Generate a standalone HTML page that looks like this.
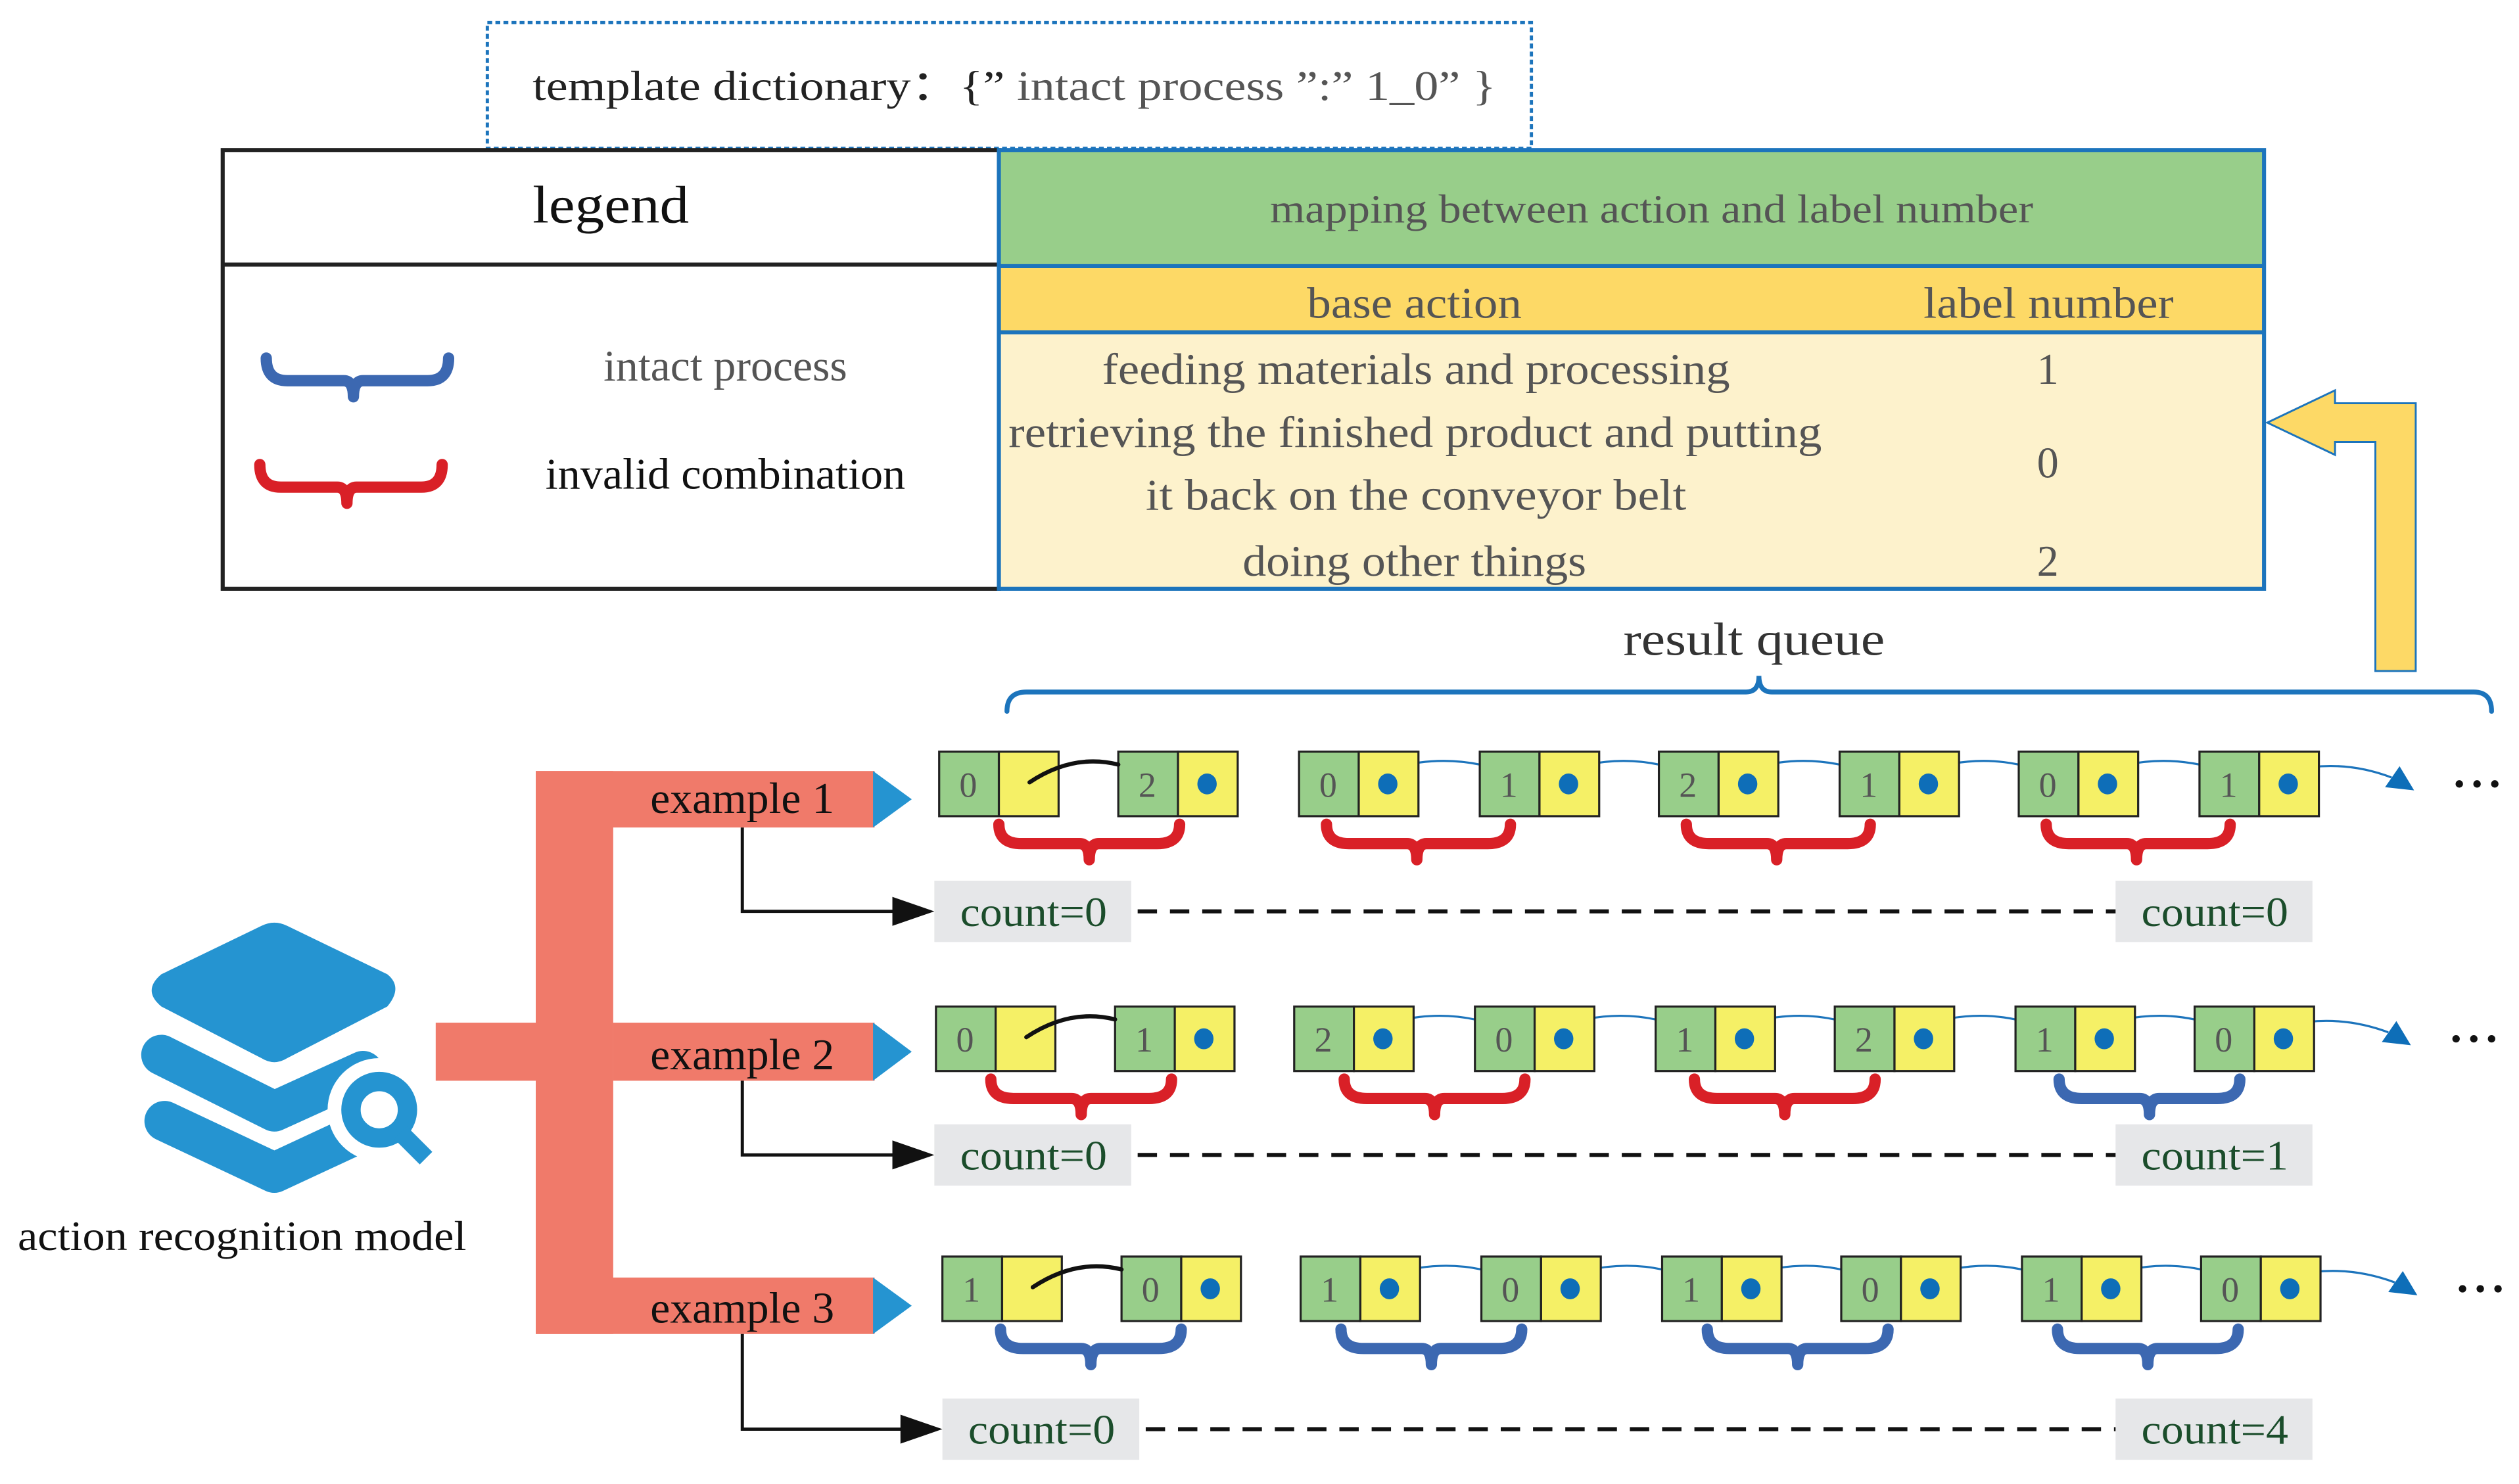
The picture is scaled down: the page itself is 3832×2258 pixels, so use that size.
<!DOCTYPE html>
<html><head><meta charset="utf-8"><style>html,body{margin:0;padding:0;background:#fff}svg{display:block}</style></head>
<body>
<svg width="3832" height="2258" viewBox="0 0 1561 920" preserveAspectRatio="none" xmlns="http://www.w3.org/2000/svg" font-family="'Liberation Serif', serif">
<defs>
<g id="nd"><rect x="0" y="0" width="37" height="40" fill="#98CE8A" stroke="#222" stroke-width="1.3"/><rect x="37" y="0" width="37" height="40" fill="#F5F066" stroke="#222" stroke-width="1.3"/></g>
</defs>
<!-- template dictionary -->
<rect x="302" y="14" width="647" height="78" fill="#fff" stroke="#1C74BC" stroke-width="2" stroke-dasharray="3,2"/>
<text x="330" y="62" font-size="26" fill="#222" textLength="597" lengthAdjust="spacingAndGlyphs">template dictionary：{” <tspan fill="#555">intact process ”:” 1_0” }</tspan></text>
<!-- legend -->
<rect x="138" y="93" width="481" height="272" fill="#fff" stroke="#222" stroke-width="2.5"/>
<line x1="138" y1="164" x2="619" y2="164" stroke="#222" stroke-width="2.5"/>
<text x="330" y="138" font-size="33" fill="#111" textLength="97" lengthAdjust="spacingAndGlyphs">legend</text>
<path d="M165,222 Q165,236 178,236 L213,236 Q219,236 219,246 Q219,236 225,236 L265,236 Q278,236 278,222" fill="none" stroke="#3C68B1" stroke-width="7" stroke-linecap="round" stroke-linejoin="round"/>
<text x="374" y="236" font-size="27" fill="#555" textLength="151" lengthAdjust="spacingAndGlyphs">intact process</text>
<path d="M161,288 Q161,302 174,302 L209,302 Q215,302 215,312 Q215,302 221,302 L261,302 Q274,302 274,288" fill="none" stroke="#D92027" stroke-width="7" stroke-linecap="round" stroke-linejoin="round"/>
<text x="338" y="303" font-size="27" fill="#111" textLength="223" lengthAdjust="spacingAndGlyphs">invalid combination</text>
<!-- mapping table -->
<rect x="619" y="93" width="784" height="72" fill="#98CE8A"/>
<rect x="619" y="165" width="784" height="41" fill="#FDD966"/>
<rect x="619" y="206" width="784" height="159" fill="#FDF2CC"/>
<rect x="619" y="93" width="784" height="272" fill="none" stroke="#1C74BC" stroke-width="2.5"/>
<line x1="619" y1="165" x2="1403" y2="165" stroke="#1C74BC" stroke-width="2.5"/>
<line x1="619" y1="206" x2="1403" y2="206" stroke="#1C74BC" stroke-width="2.5"/>
<g font-size="27" fill="#555">
<text x="787" y="138" textLength="473" lengthAdjust="spacingAndGlyphs" font-size="25">mapping between action and label number</text>
<text x="810" y="197" textLength="133" lengthAdjust="spacingAndGlyphs">base action</text>
<text x="1192" y="197" textLength="155" lengthAdjust="spacingAndGlyphs">label number</text>
<text x="683" y="238" textLength="389" lengthAdjust="spacingAndGlyphs">feeding materials and processing</text>
<text x="625" y="277" textLength="504" lengthAdjust="spacingAndGlyphs">retrieving the finished product and putting</text>
<text x="710" y="316" textLength="335" lengthAdjust="spacingAndGlyphs">it back on the conveyor belt</text>
<text x="770" y="357" textLength="213" lengthAdjust="spacingAndGlyphs">doing other things</text>
<text x="1269" y="238" text-anchor="middle">1</text>
<text x="1269" y="296" text-anchor="middle">0</text>
<text x="1269" y="357" text-anchor="middle">2</text>
</g>
<!-- yellow arrow -->
<polygon points="1405,262 1447,242 1447,250 1497,250 1497,416 1472,416 1472,274 1447,274 1447,282" fill="#FDD966" stroke="#1C74BC" stroke-width="1.2"/>
<!-- result queue -->
<text x="1006" y="406" font-size="29" fill="#333" textLength="162" lengthAdjust="spacingAndGlyphs">result queue</text>
<path d="M624,441 Q624,429 636,429 L1082,429 Q1090,429 1090,419 Q1090,429 1098,429 L1533,429 Q1544,429 1544,441" fill="none" stroke="#1C74BC" stroke-width="3" stroke-linecap="round"/>
<!-- salmon tree -->
<g fill="#F07A6A">
<rect x="270" y="634" width="110" height="36"/>
<rect x="332" y="478" width="48" height="349"/>
<rect x="332" y="478" width="210" height="35"/>
<rect x="380" y="634" width="162" height="36"/>
<rect x="332" y="792" width="210" height="35"/>
</g>
<g fill="#2594D1">
<polygon points="541,478 565,495.5 541,513"/>
<polygon points="541,634 565,652 541,670"/>
<polygon points="541,792 565,809.5 541,827"/>
</g>
<g font-size="27" fill="#111">
<text x="403" y="504" textLength="114" lengthAdjust="spacingAndGlyphs">example 1</text>
<text x="403" y="663" textLength="114" lengthAdjust="spacingAndGlyphs">example 2</text>
<text x="403" y="820" textLength="114" lengthAdjust="spacingAndGlyphs">example 3</text>
</g>
<!-- icon -->
<g fill="#2594D1">
<path d="M162,574 Q170,570 178,574 L240,604 Q250,612 240,624 L178,656 Q170,661 162,656 L100,624 Q88,614 100,604 Z"/>
<polyline points="100,654 170,689 225,664" fill="none" stroke="#2594D1" stroke-width="25" stroke-linejoin="round" stroke-linecap="round"/>
<polyline points="102,695 170,727 228,700" fill="none" stroke="#2594D1" stroke-width="25" stroke-linejoin="round" stroke-linecap="round"/>
<circle cx="235" cy="688" r="32" fill="#fff"/>
<circle cx="235" cy="688" r="17.5" fill="none" stroke="#2594D1" stroke-width="12"/>
<line x1="248" y1="702" x2="264" y2="718" stroke="#2594D1" stroke-width="11"/>
</g>
<text x="11" y="775" font-size="26" fill="#111" textLength="278" lengthAdjust="spacingAndGlyphs">action recognition model</text>
<!-- elbow arrows -->
<g stroke="#111" stroke-width="2" fill="none">
<path d="M460,513 V565 H560"/><path d="M460,670 V716 H560"/><path d="M460,827 V886 H565"/>
</g>
<g fill="#111">
<polygon points="553,556 579,565 553,574"/><polygon points="553,707 579,716 553,725"/><polygon points="558,877 584,886 558,895"/>
</g>
<!-- count boxes -->
<g fill="#E6E7E9">
<rect x="579" y="546" width="122" height="38"/><rect x="1311" y="546" width="122" height="38"/>
<rect x="579" y="697" width="122" height="38"/><rect x="1311" y="697" width="122" height="38"/>
<rect x="584" y="867" width="122" height="38"/><rect x="1311" y="867" width="122" height="38"/>
</g>
<g stroke="#111" stroke-width="2.5" stroke-dasharray="12,8">
<line x1="705" y1="565" x2="1311" y2="565"/><line x1="705" y1="716" x2="1311" y2="716"/><line x1="710" y1="886" x2="1311" y2="886"/>
</g>
<g font-size="26" fill="#1B4D2B">
<text x="595" y="574" textLength="91" lengthAdjust="spacingAndGlyphs">count=0</text>
<text x="1327" y="574" textLength="91" lengthAdjust="spacingAndGlyphs">count=0</text>
<text x="595" y="725" textLength="91" lengthAdjust="spacingAndGlyphs">count=0</text>
<text x="1327" y="725" textLength="91" lengthAdjust="spacingAndGlyphs">count=1</text>
<text x="600" y="895" textLength="91" lengthAdjust="spacingAndGlyphs">count=0</text>
<text x="1327" y="895" textLength="91" lengthAdjust="spacingAndGlyphs">count=4</text>
</g>

<!-- ROW 1 y=466 -->
<g>
<path d="M838,486 Q878,466 917,474 M950,486 Q990,466 1028,474 M1061,486 Q1101,466 1140,474 M1173,486 Q1213,466 1251,474 M1284,486 Q1324,466 1363,474 M1396,486 Q1440,466 1482,482" fill="none" stroke="#1C74BC" stroke-width="1.3"/>
<use href="#nd" x="582" y="466"/><use href="#nd" x="693" y="466"/><use href="#nd" x="805" y="466"/><use href="#nd" x="917" y="466"/>
<use href="#nd" x="1028" y="466"/><use href="#nd" x="1140" y="466"/><use href="#nd" x="1251" y="466"/><use href="#nd" x="1363" y="466"/>
<path d="M638,485 Q665,467 693,474" fill="none" stroke="#111" stroke-width="2.6" stroke-linecap="round"/>
<g fill="#0E6EB8"><ellipse cx="748" cy="486" rx="6" ry="6.5"/><ellipse cx="860" cy="486" rx="6" ry="6.5"/><ellipse cx="972" cy="486" rx="6" ry="6.5"/><ellipse cx="1083" cy="486" rx="6" ry="6.5"/><ellipse cx="1195" cy="486" rx="6" ry="6.5"/><ellipse cx="1306" cy="486" rx="6" ry="6.5"/><ellipse cx="1418" cy="486" rx="6" ry="6.5"/>
<polygon points="1478,488 1487,475 1496,490"/></g>
<g font-size="22" fill="#555" text-anchor="middle">
<text x="600" y="494">0</text><text x="711" y="494">2</text><text x="823" y="494">0</text><text x="935" y="494">1</text><text x="1046" y="494">2</text><text x="1158" y="494">1</text><text x="1269" y="494">0</text><text x="1381" y="494">1</text>
</g>
<g fill="none" stroke="#D92027" stroke-width="7" stroke-linecap="round" stroke-linejoin="round">
<path d="M619,511 Q619,523 633,523 L669,523 Q675,523 675,533 Q675,523 681,523 L717,523 Q731,523 731,511"/>
<path d="M822,511 Q822,523 836,523 L872,523 Q878,523 878,533 Q878,523 884,523 L922,523 Q936,523 936,511"/>
<path d="M1045,511 Q1045,523 1059,523 L1095,523 Q1101,523 1101,533 Q1101,523 1107,523 L1145,523 Q1159,523 1159,511"/>
<path d="M1268,511 Q1268,523 1282,523 L1318,523 Q1324,523 1324,533 Q1324,523 1330,523 L1368,523 Q1382,523 1382,511"/>
</g>
</g>
<g fill="#111"><circle cx="1524" cy="486" r="2.3"/><circle cx="1535" cy="486" r="2.3"/><circle cx="1546" cy="486" r="2.3"/></g>

<!-- ROW 2 y=624 -->
<g>
<path d="M836,644 Q876,624 914,632 M948,644 Q988,624 1026,632 M1059,644 Q1099,624 1137,632 M1171,644 Q1211,624 1249,632 M1282,644 Q1322,624 1360,632 M1393,644 Q1437,624 1480,640" fill="none" stroke="#1C74BC" stroke-width="1.3"/>
<use href="#nd" x="580" y="624"/><use href="#nd" x="691" y="624"/><use href="#nd" x="802" y="624"/><use href="#nd" x="914" y="624"/>
<use href="#nd" x="1026" y="624"/><use href="#nd" x="1137" y="624"/><use href="#nd" x="1249" y="624"/><use href="#nd" x="1360" y="624"/>
<path d="M636,643 Q663,625 691,632" fill="none" stroke="#111" stroke-width="2.6" stroke-linecap="round"/>
<g fill="#0E6EB8"><ellipse cx="746" cy="644" rx="6" ry="6.5"/><ellipse cx="857" cy="644" rx="6" ry="6.5"/><ellipse cx="969" cy="644" rx="6" ry="6.5"/><ellipse cx="1081" cy="644" rx="6" ry="6.5"/><ellipse cx="1192" cy="644" rx="6" ry="6.5"/><ellipse cx="1304" cy="644" rx="6" ry="6.5"/><ellipse cx="1415" cy="644" rx="6" ry="6.5"/>
<polygon points="1476,646 1485,633 1494,648"/></g>
<g font-size="22" fill="#555" text-anchor="middle">
<text x="598" y="652">0</text><text x="709" y="652">1</text><text x="820" y="652">2</text><text x="932" y="652">0</text><text x="1044" y="652">1</text><text x="1155" y="652">2</text><text x="1267" y="652">1</text><text x="1378" y="652">0</text>
</g>
<g fill="none" stroke-width="7" stroke-linecap="round" stroke-linejoin="round">
<path stroke="#D92027" d="M614,669 Q614,681 628,681 L664,681 Q670,681 670,691 Q670,681 676,681 L712,681 Q726,681 726,669"/>
<path stroke="#D92027" d="M833,669 Q833,681 847,681 L883,681 Q889,681 889,691 Q889,681 895,681 L931,681 Q945,681 945,669"/>
<path stroke="#D92027" d="M1050,669 Q1050,681 1064,681 L1100,681 Q1106,681 1106,691 Q1106,681 1112,681 L1148,681 Q1162,681 1162,669"/>
<path stroke="#3C68B1" d="M1276,669 Q1276,681 1290,681 L1326,681 Q1332,681 1332,691 Q1332,681 1338,681 L1374,681 Q1388,681 1388,669"/>
</g>
</g>
<g fill="#111"><circle cx="1522" cy="644" r="2.3"/><circle cx="1533" cy="644" r="2.3"/><circle cx="1544" cy="644" r="2.3"/></g>

<!-- ROW 3 y=779 -->
<g>
<path d="M840,799 Q880,779 918,787 M952,799 Q992,779 1030,787 M1063,799 Q1103,779 1141,787 M1175,799 Q1215,779 1253,787 M1286,799 Q1326,779 1364,787 M1397,799 Q1441,779 1484,795" fill="none" stroke="#1C74BC" stroke-width="1.3"/>
<use href="#nd" x="584" y="779"/><use href="#nd" x="695" y="779"/><use href="#nd" x="806" y="779"/><use href="#nd" x="918" y="779"/>
<use href="#nd" x="1030" y="779"/><use href="#nd" x="1141" y="779"/><use href="#nd" x="1253" y="779"/><use href="#nd" x="1364" y="779"/>
<path d="M640,798 Q667,780 695,787" fill="none" stroke="#111" stroke-width="2.6" stroke-linecap="round"/>
<g fill="#0E6EB8"><ellipse cx="750" cy="799" rx="6" ry="6.5"/><ellipse cx="861" cy="799" rx="6" ry="6.5"/><ellipse cx="973" cy="799" rx="6" ry="6.5"/><ellipse cx="1085" cy="799" rx="6" ry="6.5"/><ellipse cx="1196" cy="799" rx="6" ry="6.5"/><ellipse cx="1308" cy="799" rx="6" ry="6.5"/><ellipse cx="1419" cy="799" rx="6" ry="6.5"/>
<polygon points="1480,801 1489,788 1498,803"/></g>
<g font-size="22" fill="#555" text-anchor="middle">
<text x="602" y="807">1</text><text x="713" y="807">0</text><text x="824" y="807">1</text><text x="936" y="807">0</text><text x="1048" y="807">1</text><text x="1159" y="807">0</text><text x="1271" y="807">1</text><text x="1382" y="807">0</text>
</g>
<g fill="none" stroke="#3C68B1" stroke-width="7" stroke-linecap="round" stroke-linejoin="round">
<path d="M620,824 Q620,836 634,836 L670,836 Q676,836 676,846 Q676,836 682,836 L718,836 Q732,836 732,824"/>
<path d="M831,824 Q831,836 845,836 L881,836 Q887,836 887,846 Q887,836 893,836 L929,836 Q943,836 943,824"/>
<path d="M1058,824 Q1058,836 1072,836 L1108,836 Q1114,836 1114,846 Q1114,836 1120,836 L1156,836 Q1170,836 1170,824"/>
<path d="M1275,824 Q1275,836 1289,836 L1325,836 Q1331,836 1331,846 Q1331,836 1337,836 L1373,836 Q1387,836 1387,824"/>
</g>
</g>
<g fill="#111"><circle cx="1526" cy="799" r="2.3"/><circle cx="1537" cy="799" r="2.3"/><circle cx="1548" cy="799" r="2.3"/></g>
</svg>
</body></html>
